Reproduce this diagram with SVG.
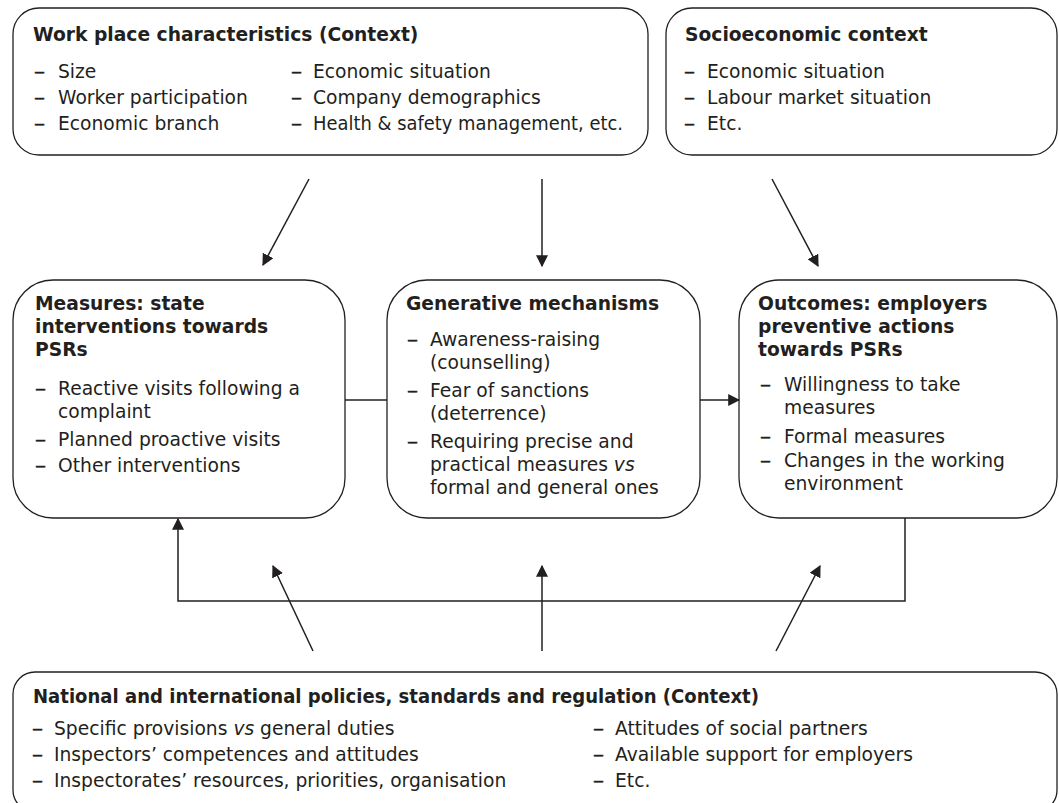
<svg xmlns="http://www.w3.org/2000/svg" width="1059" height="803" viewBox="0 0 1059 803">
<defs>
<marker id="ah" viewBox="0 0 10 10" refX="9" refY="5" markerWidth="12" markerHeight="12" markerUnits="userSpaceOnUse" orient="auto">
<path d="M0,0 L10,5 L0,10 z" fill="#231f20"/>
</marker>
<style>
.box{fill:#fff;stroke:#231f20;stroke-width:1.3}
.t{font-family:"DejaVu Sans",Verdana,sans-serif;font-size:18.7px;fill:#231f20}
.b{font-weight:bold}
.d{font-family:"DejaVu Sans",Verdana,sans-serif;font-size:18.7px;fill:#231f20;stroke:#231f20;stroke-width:0.5}
.ln{fill:none;stroke:#231f20;stroke-width:1.5}
.ar{fill:none;stroke:#231f20;stroke-width:1.5;marker-end:url(#ah)}
</style>
</defs>
<rect width="1059" height="803" fill="#fff"/>

<g id="workplace">
<rect class="box" x="13" y="8" width="635" height="147" rx="26"/>
<text class="t b" x="33" y="41">Work place characteristics (Context)</text>
<text class="d" x="34" y="78" textLength="11" lengthAdjust="spacingAndGlyphs">–</text><text class="t" x="58" y="78">Size</text>
<text class="d" x="34" y="104" textLength="11" lengthAdjust="spacingAndGlyphs">–</text><text class="t" x="58" y="104">Worker participation</text>
<text class="d" x="34" y="130" textLength="11" lengthAdjust="spacingAndGlyphs">–</text><text class="t" x="58" y="130">Economic branch</text>
<text class="d" x="291" y="78" textLength="11" lengthAdjust="spacingAndGlyphs">–</text><text class="t" x="313" y="78">Economic situation</text>
<text class="d" x="291" y="104" textLength="11" lengthAdjust="spacingAndGlyphs">–</text><text class="t" x="313" y="104">Company demographics</text>
<text class="d" x="291" y="130" textLength="11" lengthAdjust="spacingAndGlyphs">–</text><text class="t" x="313" y="130" textLength="310" lengthAdjust="spacingAndGlyphs">Health &amp; safety management, etc.</text>
</g>

<g id="socioeconomic">
<rect class="box" x="666" y="8" width="391" height="147" rx="26"/>
<text class="t b" x="685" y="41">Socioeconomic context</text>
<text class="d" x="684" y="78" textLength="11" lengthAdjust="spacingAndGlyphs">–</text><text class="t" x="707" y="78">Economic situation</text>
<text class="d" x="684" y="104" textLength="11" lengthAdjust="spacingAndGlyphs">–</text><text class="t" x="707" y="104">Labour market situation</text>
<text class="d" x="684" y="130" textLength="11" lengthAdjust="spacingAndGlyphs">–</text><text class="t" x="707" y="130">Etc.</text>
</g>

<g id="measures">
<rect class="box" x="13" y="280" width="332" height="238" rx="40"/>
<text class="t b" x="35" y="310">Measures: state</text>
<text class="t b" x="35" y="333">interventions towards</text>
<text class="t b" x="35" y="356">PSRs</text>
<text class="d" x="35" y="395" textLength="11" lengthAdjust="spacingAndGlyphs">–</text><text class="t" x="58" y="395">Reactive visits following a</text>
<text class="t" x="58" y="418">complaint</text>
<text class="d" x="35" y="446" textLength="11" lengthAdjust="spacingAndGlyphs">–</text><text class="t" x="58" y="446">Planned proactive visits</text>
<text class="d" x="35" y="472" textLength="11" lengthAdjust="spacingAndGlyphs">–</text><text class="t" x="58" y="472">Other interventions</text>
</g>

<g id="mechanisms">
<rect class="box" x="387" y="280" width="313" height="238" rx="40"/>
<text class="t b" x="406" y="310">Generative mechanisms</text>
<text class="d" x="407" y="346" textLength="11" lengthAdjust="spacingAndGlyphs">–</text><text class="t" x="430" y="346">Awareness-raising</text>
<text class="t" x="430" y="369">(counselling)</text>
<text class="d" x="407" y="397" textLength="11" lengthAdjust="spacingAndGlyphs">–</text><text class="t" x="430" y="397">Fear of sanctions</text>
<text class="t" x="430" y="420">(deterrence)</text>
<text class="d" x="407" y="448" textLength="11" lengthAdjust="spacingAndGlyphs">–</text><text class="t" x="430" y="448">Requiring precise and</text>
<text class="t" x="430" y="471">practical measures <tspan font-style="italic">vs</tspan></text>
<text class="t" x="430" y="494">formal and general ones</text>
</g>

<g id="outcomes">
<rect class="box" x="739" y="280" width="318" height="238" rx="40"/>
<text class="t b" x="758" y="310">Outcomes: employers</text>
<text class="t b" x="758" y="333">preventive actions</text>
<text class="t b" x="758" y="356">towards PSRs</text>
<text class="d" x="760" y="391" textLength="11" lengthAdjust="spacingAndGlyphs">–</text><text class="t" x="784" y="391">Willingness to take</text>
<text class="t" x="784" y="414">measures</text>
<text class="d" x="760" y="443" textLength="11" lengthAdjust="spacingAndGlyphs">–</text><text class="t" x="784" y="443">Formal measures</text>
<text class="d" x="760" y="467" textLength="11" lengthAdjust="spacingAndGlyphs">–</text><text class="t" x="784" y="467">Changes in the working</text>
<text class="t" x="784" y="490">environment</text>
</g>

<g id="policies">
<rect class="box" x="13" y="672" width="1044" height="140" rx="22"/>
<text class="t b" x="33" y="703" textLength="726" lengthAdjust="spacingAndGlyphs">National and international policies, standards and regulation (Context)</text>
<text class="d" x="32" y="735" textLength="11" lengthAdjust="spacingAndGlyphs">–</text><text class="t" x="54" y="735">Specific provisions <tspan font-style="italic">vs</tspan> general duties</text>
<text class="d" x="32" y="761" textLength="11" lengthAdjust="spacingAndGlyphs">–</text><text class="t" x="54" y="761">Inspectors’ competences and attitudes</text>
<text class="d" x="32" y="787" textLength="11" lengthAdjust="spacingAndGlyphs">–</text><text class="t" x="54" y="787">Inspectorates’ resources, priorities, organisation</text>
<text class="d" x="593" y="735" textLength="11" lengthAdjust="spacingAndGlyphs">–</text><text class="t" x="615" y="735">Attitudes of social partners</text>
<text class="d" x="593" y="761" textLength="11" lengthAdjust="spacingAndGlyphs">–</text><text class="t" x="615" y="761">Available support for employers</text>
<text class="d" x="593" y="787" textLength="11" lengthAdjust="spacingAndGlyphs">–</text><text class="t" x="615" y="787">Etc.</text>
</g>

<g id="connectors">
<line class="ar" x1="309" y1="179" x2="263" y2="265"/>
<line class="ar" x1="542" y1="179" x2="542" y2="266"/>
<line class="ar" x1="772" y1="179" x2="818" y2="266"/>
<line class="ln" x1="345" y1="400" x2="387" y2="400"/>
<line class="ar" x1="700" y1="400" x2="739" y2="400"/>
<polyline class="ar" points="905,518 905,601 178,601 178,519"/>
<line class="ar" x1="313" y1="651" x2="273" y2="566"/>
<line class="ar" x1="542" y1="651" x2="542" y2="566"/>
<line class="ar" x1="776" y1="651" x2="820" y2="566"/>
</g>
</svg>
